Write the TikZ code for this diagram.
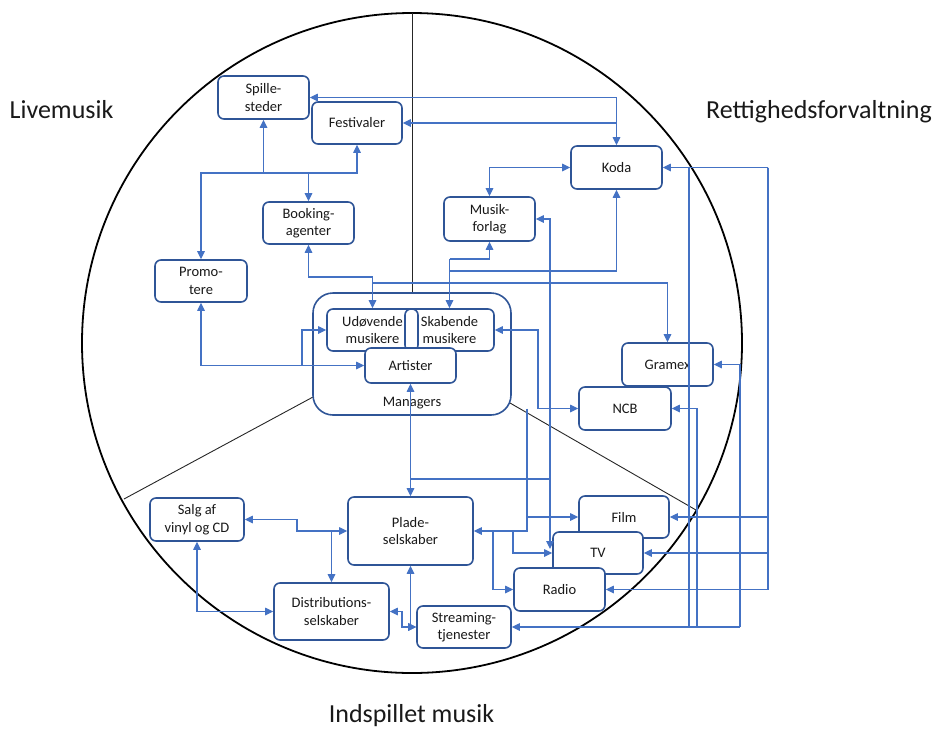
\documentclass[tikz,border=0pt]{standalone}
\usepackage{fontspec}
\setmainfont{Carlito}
\usepackage{xcolor}
\usepackage{tikz}
\usetikzlibrary{positioning,arrows.meta,calc}
\definecolor{boxblue}{RGB}{47,85,151}
\definecolor{linkblue}{RGB}{68,114,196}
\tikzset{
  actor/.style={draw=boxblue, fill=white, line width=1.6pt, rounded corners=6pt,
                minimum width=91pt, minimum height=43pt, inner sep=1pt, align=center,
                text=black!90, font=\fontsize{14.5}{17.5}\selectfont},
  hollow/.style={actor, fill=none},
  umbrella/.style={hollow, rounded corners=20pt, minimum width=198pt, minimum height=122pt},
  link/.style={draw=linkblue, line width=1.1pt},
  arr/.style={link, -{Triangle[length=8pt, width=7.5pt]}},
  biarr/.style={link, {Triangle[length=8pt, width=7.5pt]}-{Triangle[length=8pt, width=7.5pt]}},
  ring/.style={draw=black, line width=1.8pt},
  divider/.style={draw=black!85, line width=0.9pt},
  lbl/.style={anchor=base, text=black!90, font=\fontsize{26}{31}\selectfont}
}

\begin{document}
\begin{tikzpicture}[x=1pt, y=-1pt]
        \useasboundingbox (0,0) rectangle (935,729);
        \draw[ring] (412,343) circle [radius=330pt];
        \draw[divider] (412,13) -- (412,293);
        \draw[divider] (313,397) -- (124,499);
        \draw[divider] (510,403) -- (696,510);

        \node[lbl] (live) at (61.5,118) {Livemusik};
        \node[lbl] (rights) at (819,118) {Rettighedsforvaltning};
        \node[lbl] (recorded) at (411.5,722) {Indspillet musik};

        \node[actor] (spille) at (263.5,97.5) {Spille-\\steder};
        \node[actor, minimum width=90pt, minimum height=42pt] (fest) at (357,123) {Festivaler};
        \node[actor, minimum height=42pt] (book) at (308.5,223) {Booking-\\agenter};
        \node[actor, minimum width=92pt, minimum height=42pt] (promo) at (201,281) {Promo-\\tere};
        \node[actor] (koda) at (616.5,167.5) {Koda};
        \node[actor, minimum height=44pt] (musik) at (489.5,219) {Musik-\\forlag};

        \node[umbrella, label={[anchor=south, yshift=3pt, text=black!90,
              font=\fontsize{14.5}{17.5}\selectfont]south:Managers}] (mgr) at (412,354) {};
        \node[hollow, minimum height=42pt] (udo) at (372.5,330) {Udøvende\\musikere};
        \node[hollow, minimum width=89pt, minimum height=42pt] (skab) at (449.5,330) {Skabende\\musikere};
        \node[actor, minimum height=35pt] (artist) at (410.5,365.5) {Artister};

        \node[hollow] (gramex) at (667.5,364.5) {Gramex};
        \node[actor, minimum width=92pt] (ncb) at (625,408.5) {NCB};

        \node[actor, minimum width=94pt] (salg) at (197,519.5) {Salg af\\vinyl og CD};
        \node[actor, minimum width=125pt, minimum height=68pt] (plade) at (410.5,531) {Plade-\\selskaber};
        \node[actor, minimum width=115pt, minimum height=57pt] (dist) at (331.5,611.5) {Distributions-\\selskaber};
        \node[actor, minimum width=94pt, minimum height=42pt] (stream) at (464,627) {Streaming-\\tjenester};
        \node[actor, minimum width=90pt, minimum height=42pt] (film) at (624,517) {Film};
        \node[actor, minimum width=90pt, minimum height=42pt] (tv) at (598,553) {TV};
        \node[actor] (radio) at (559.5,589.5) {Radio};

        \coordinate (hub) at (308.5,173);
        \draw[arr] (hub) -- (book.north);
        \draw[arr] (hub) -| (promo.north);
        \draw[arr] (hub) -| (spille.south);
        \draw[arr] (hub) -| (fest.south);

        \draw[biarr] (spille.east) -| (koda.north);
        \draw[arr] (koda.north |- fest.east) -- (fest.east);
        \draw[biarr] (koda.west) -| (musik.north);
        \coordinate (sk) at (449.5,259);
        \draw[arr] (sk) -- (skab.north);
        \draw[arr] (sk) -| (musik.south);
        \draw[arr] (449.5,271) -| (koda.south);

        \draw[biarr] (book.south) |- (372.5,277) -- (udo.north);
        \draw[arr] (372.5,283) -| (gramex.north);
        \draw[biarr] (promo.south) |- (artist.west);
        \draw[arr] (302,365.5) |- (udo.west);
        \draw[biarr] (skab.east) -| (538,408.5) -- (ncb.west);
        \draw[arr] (527,408.5) |- (plade.east);
        \draw[arr] (527,517) -- (film.west);
        \draw[arr] (513,531) |- (tv.west);
        \draw[arr] (493,531) |- (radio.west);
        \coordinate (tvtop) at (550,549);
        \draw[biarr] (musik.east) -| (tvtop);
        \draw[link] (410.5,479) -- (550,479);
        \draw[biarr] (artist.south) -- (plade.north);

        \coordinate (kr) at (768,167.5);
        \draw[arr] (kr) -- (koda.east);
        \draw[arr] (kr) |- (film.east);
        \draw[arr] (kr) |- (tv.east);
        \draw[arr] (kr) |- (radio.east);
        \draw[link] (689,167.5) -- (689,627);
        \draw[arr] (697,627) |- (ncb.east);
        \draw[arr] (740,627) |- (gramex.east);
        \draw[arr] (740,627) -- (stream.east);

        \draw[biarr] (salg.east) -| (297,531) -- (plade.west);
        \draw[arr] (331.5,531) -- (dist.north);
        \draw[biarr] (salg.south) |- (dist.west);
        \draw[biarr] (dist.east) -| (402,627) -- (stream.west);
        \draw[biarr] (plade.south) |- (stream.west);
      \end{tikzpicture}
\end{document}
